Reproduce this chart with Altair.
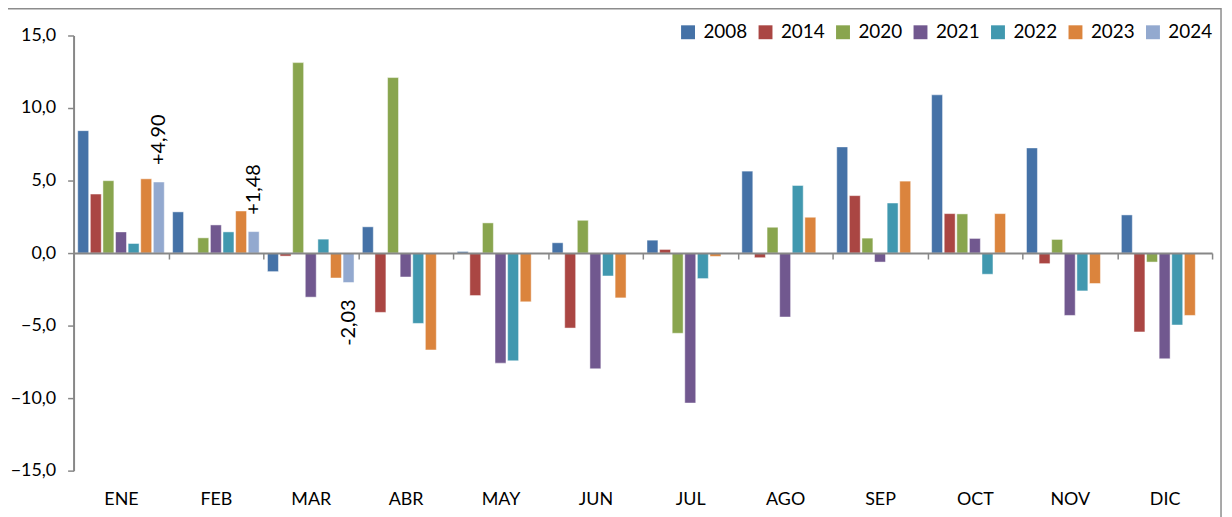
import altair as alt
import pandas as pd

months = ["ENE", "FEB", "MAR", "ABR", "MAY", "JUN", "JUL", "AGO", "SEP", "OCT", "NOV", "DIC"]
years = ["2008", "2014", "2020", "2021", "2022", "2023", "2024"]
colors = ["#4572A7", "#AA4643", "#89A54E", "#71588F", "#4198AF", "#DB843D", "#93A9CF"]

v2008 = [8.44, 2.84, -1.28, 1.81, 0.11, 0.71, 0.89, 5.65, 7.32, 10.91, 7.25, 2.63]
v2014 = [4.07, None, -0.21, -4.09, -2.93, -5.17, 0.25, -0.32, 3.96, 2.72, -0.73, -5.44]
v2020 = [4.99, 1.05, 13.13, 12.10, 2.08, 2.26, -5.53, 1.78, 1.03, 2.70, 0.94, -0.62]
v2021 = [1.46, 1.94, -3.04, -1.65, -7.59, -7.98, -10.34, -4.41, -0.62, 1.01, -4.30, -7.29]
v2022 = [0.66, 1.46, 0.96, -4.85, -7.43, -1.58, -1.76, 4.66, 3.45, -1.46, -2.61, -4.96]
v2023 = [5.12, 2.90, -1.72, -6.68, -3.36, -3.09, -0.23, 2.47, 4.96, 2.72, -2.10, -4.30]
v2024 = [4.90, 1.48, -2.03, None, None, None, None, None, None, None, None, None]
labels2024 = ["+4,90", "+1,48", "-2,03"]

series = [v2008, v2014, v2020, v2021, v2022, v2023, v2024]

rows = []
for yr, vals in zip(years, series):
    for m, v in zip(months, vals):
        if v is not None:
            rows.append({"month": m, "year": yr, "value": v})
df = pd.DataFrame(rows)

lab_rows = []
for m, v, t in zip(months, v2024, labels2024):
    lab_rows.append({"month": m, "year": "2024", "value": v, "label": t})
lab_df = pd.DataFrame(lab_rows)

FONT = "Lato"
GRAY = "#878787"

x_enc = alt.X(
    "month:N",
    sort=months,
    scale=alt.Scale(paddingInner=0, paddingOuter=0),
    axis=alt.Axis(
        title=None, orient="bottom", offset=-219, tickBand="extent",
        domainColor=GRAY, domainWidth=2, tickColor=GRAY, tickWidth=1.5, tickSize=6,
        labelPadding=233, labelFont=FONT, labelFontSize=18, labelColor="black",
        labelAngle=0, zindex=1,
    ),
)
xo_enc = alt.XOffset("year:N", sort=years, scale=alt.Scale(domain=years, paddingInner=0.13, paddingOuter=0.33))
y_enc = alt.Y(
    "value:Q",
    scale=alt.Scale(domain=[-15, 15], nice=False, zero=True),
    axis=alt.Axis(
        title=None, values=[-15, -10, -5, 0, 5, 10, 15], grid=False,
        domainColor=GRAY, domainWidth=2, tickColor=GRAY, tickWidth=1.5, tickSize=6,
        labelPadding=12, labelFont=FONT, labelFontSize=18, labelColor="black",
        labelExpr="replace(format(datum.value, '.1f'), '.', ',')", zindex=1,
    ),
)

bars = alt.Chart(df).mark_bar(stroke="white", strokeWidth=0.8, strokeOpacity=0.6).encode(
    x=x_enc,
    xOffset=xo_enc,
    y=y_enc,
    color=alt.Color(
        "year:N",
        scale=alt.Scale(domain=years, range=colors),
        legend=alt.Legend(
            title=None, orient="none", legendX=609, legendY=-13, direction="horizontal",
            columns=7, symbolType="square", symbolSize=196, symbolStrokeWidth=0,
            labelFont=FONT, labelFontSize=19, labelColor="black", labelOffset=6,
            columnPadding=8, padding=0,
        ),
    ),
)

pos_labels = alt.Chart(lab_df).transform_filter("datum.value > 0").mark_text(
    angle=270, align="left", baseline="middle", dx=17, font=FONT, fontSize=20, color="black"
).encode(x=x_enc, xOffset=xo_enc, y=y_enc, text="label:N")

neg_labels = alt.Chart(lab_df).transform_filter("datum.value < 0").mark_text(
    angle=270, align="right", baseline="middle", dx=-17, font=FONT, fontSize=20, color="black"
).encode(x=x_enc, xOffset=xo_enc, y=y_enc, text="label:N")

border = alt.Chart(pd.DataFrame({"a": [0]})).mark_rect(
    fill="transparent", stroke="#8C8C8C", strokeWidth=1.5
).encode(x=alt.value(-67), x2=alt.value(1155), y=alt.value(-27), y2=alt.value(530))

chart = alt.layer(border, bars, pos_labels, neg_labels).properties(
    width=1146, height=438,
    autosize=alt.AutoSizeParams(type="none"),
    padding={"left": 66, "top": 26, "right": 12, "bottom": 45},
    background="white",
).configure_view(stroke=None)

chart.save("out.html", embed_options={"renderer": "svg", "actions": False})
